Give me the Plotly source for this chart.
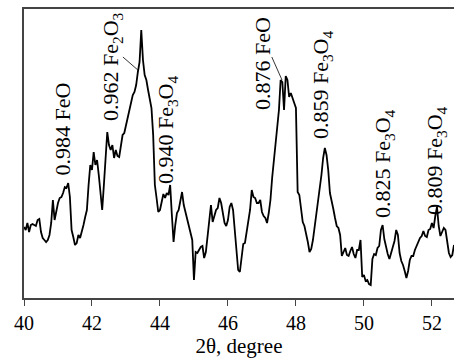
import plotly.graph_objects as go

# 2-theta grid (degrees)
two_theta = [
40.00,40.05,40.10,40.15,40.20,40.25,40.30,40.35,40.40,40.45,40.50,40.55,40.60,40.65,40.70,40.75,40.80,40.85,40.90,40.95,
41.00,41.05,41.10,41.15,41.20,41.25,41.30,41.35,41.40,41.45,41.50,41.55,41.60,41.65,41.70,41.75,41.80,41.85,41.90,41.95,
42.00,42.05,42.10,42.15,42.20,42.25,42.30,42.35,42.40,42.45,42.50,42.55,42.60,42.65,42.70,42.75,42.80,42.85,42.90,42.95,
43.00,43.05,43.10,43.15,43.20,43.25,43.30,43.35,43.40,43.45,43.50,43.55,43.60,43.65,43.70,43.75,43.80,43.85,43.90,43.95,
44.00,44.05,44.10,44.15,44.20,44.25,44.30,44.35,44.40,44.45,44.50,44.55,44.60,44.65,44.70,44.75,44.80,44.85,44.90,44.95,
45.00,45.05,45.10,45.15,45.20,45.25,45.30,45.35,45.40,45.45,45.50,45.55,45.60,45.65,45.70,45.75,45.80,45.85,45.90,45.95,
46.00,46.05,46.10,46.15,46.20,46.25,46.30,46.35,46.40,46.45,46.50,46.55,46.60,46.65,46.70,46.75,46.80,46.85,46.90,46.95,
47.00,47.05,47.10,47.15,47.20,47.25,47.30,47.35,47.40,47.45,47.50,47.55,47.60,47.65,47.70,47.75,47.80,47.85,47.90,47.95,
48.00,48.05,48.10,48.15,48.20,48.25,48.30,48.35,48.40,48.45,48.50,48.55,48.60,48.65,48.70,48.75,48.80,48.85,48.90,48.95,
49.00,49.05,49.10,49.15,49.20,49.25,49.30,49.35,49.40,49.45,49.50,49.55,49.60,49.65,49.70,49.75,49.80,49.85,49.90,49.95,
50.00,50.05,50.10,50.15,50.20,50.25,50.30,50.35,50.40,50.45,50.50,50.55,50.60,50.65,50.70,50.75,50.80,50.85,50.90,50.95,
51.00,51.05,51.10,51.15,51.20,51.25,51.30,51.35,51.40,51.45,51.50,51.55,51.60,51.65,51.70,51.75,51.80,51.85,51.90,51.95,
52.00,52.05,52.10,52.15,52.20,52.25,52.30,52.35,52.40,52.45,52.50,52.55,52.60,52.65]

# intensity (arb. units)
intensity = [
71,68,75,66,73,74,73,72,78,79,66,60,58,56,58,63,75,98,78,88,
95,100,101,105,111,110,115,101,68,61,53,55,63,60,66,73,81,88,113,133,
128,146,133,138,123,108,88,113,143,166,153,148,153,140,148,142,141,153,163,165,
173,179,188,195,203,206,213,226,236,268,238,223,218,208,198,190,163,113,100,86,
88,98,104,100,105,103,113,83,56,73,85,88,98,106,93,86,80,73,66,58,
18,46,45,48,51,52,40,46,60,76,93,76,81,88,90,100,95,83,75,72,
78,91,95,88,65,42,28,26,42,54,55,65,76,88,108,101,100,95,95,98,
86,82,80,75,85,98,120,138,156,170,188,218,216,188,222,218,201,205,199,195,
190,106,103,88,76,72,65,56,46,49,58,70,82,94,110,123,140,150,143,128,
105,95,89,80,72,70,63,42,47,50,43,42,47,51,44,40,48,48,58,21,
23,17,18,14,13,39,44,43,50,52,68,73,59,51,44,39,44,51,57,68,
63,45,37,33,27,20,27,38,42,42,48,52,57,60,62,67,62,61,68,69,
75,70,82,91,72,62,66,70,68,56,45,41,43,53]

tick_vals = [40, 42, 44, 46, 48, 50, 52]
tick_text = ["40", "42", "44", "46", "48", "50", "52"]

peak_labels = ["0.984 FeO", "0.962 Fe<sub>2</sub>O<sub>3</sub>", "0.940 Fe<sub>3</sub>O<sub>4</sub>",
               "0.876 FeO", "0.859 Fe<sub>3</sub>O<sub>4</sub>", "0.825 Fe<sub>3</sub>O<sub>4</sub>",
               "0.809 Fe<sub>3</sub>O<sub>4</sub>"]
label_x = [41.13, 42.59, 44.21, 47.00, 48.77, 50.59, 52.12]
label_y = [169, 231, 168, 235, 213, 135, 138]

# leader lines: (x0, y0, x1, y1)
leaders = [(42.91, 241, 43.35, 228), (47.29, 241, 47.59, 218)]

FONT = "Liberation Serif, Times New Roman, serif"

fig = go.Figure()
fig.add_trace(go.Scatter(x=two_theta, y=intensity, mode="lines",
                         line=dict(color="black", width=1.8), showlegend=False))

for t, x, y in zip(peak_labels, label_x, label_y):
    fig.add_annotation(x=x, y=y, text=t, textangle=-90, showarrow=False,
                       xanchor="center", yanchor="middle",
                       font=dict(family=FONT, size=22, color="black"))

for x0, y0, x1, y1 in leaders:
    fig.add_shape(type="line", x0=x0, y0=y0, x1=x1, y1=y1,
                  line=dict(color="black", width=0.8))

fig.update_layout(
    width=454, height=358,
    margin=dict(l=24, r=0, t=9, b=60),
    paper_bgcolor="white", plot_bgcolor="white",
    font=dict(family=FONT, size=20, color="black"),
    xaxis=dict(range=[40, 52.65], tickvals=tick_vals, ticktext=tick_text,
               showline=True, linecolor="#444", linewidth=1.5, mirror=True,
               ticks="outside", ticklen=6, tickcolor="#444", tickwidth=1.2,
               showgrid=False, zeroline=False,
               title=dict(text="2θ, degree", font=dict(size=21), standoff=4)),
    yaxis=dict(range=[0, 289], showline=True, linecolor="#444", linewidth=1.5,
               showticklabels=False, ticks="", showgrid=False, zeroline=False),
)

fig.write_html("out.html", config={"displayModeBar": False},
               post_script="document.body.style.margin='0px';document.body.style.overflow='hidden';")
